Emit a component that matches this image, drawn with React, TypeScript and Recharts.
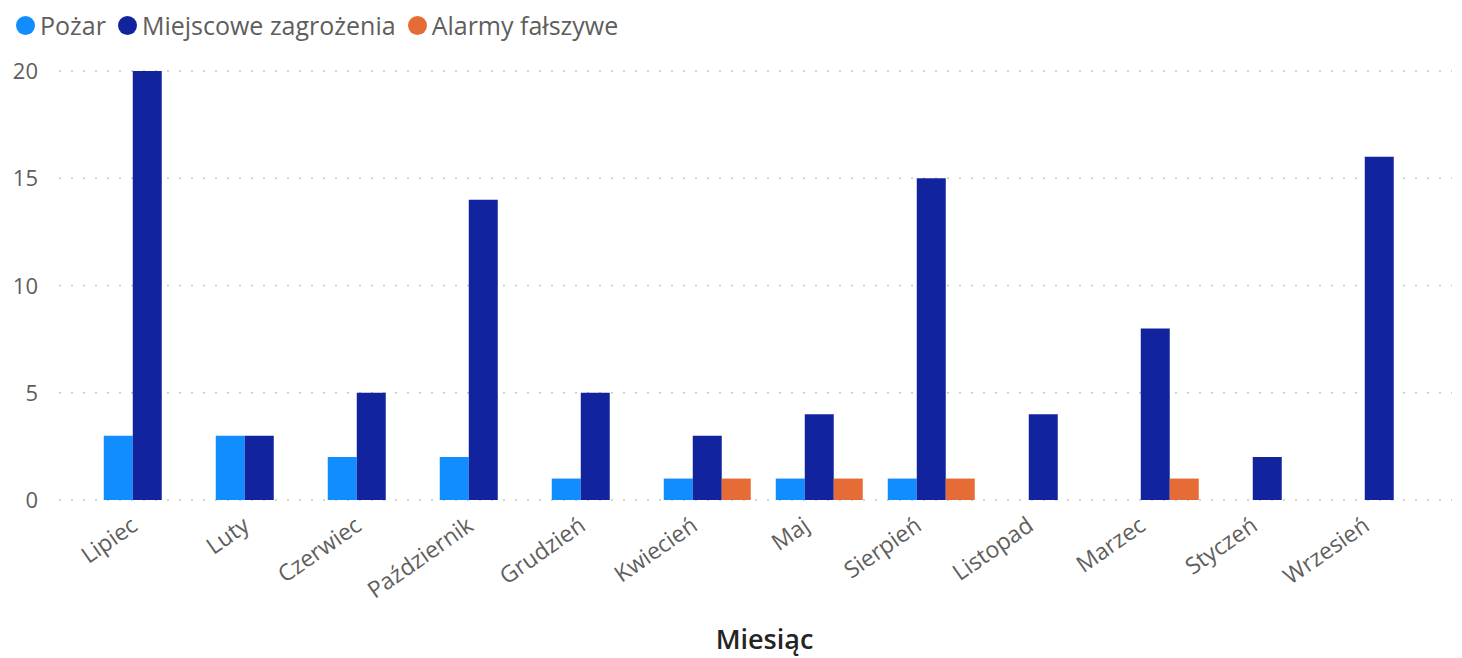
import React from "react";
import { BarChart, Bar, XAxis, YAxis, CartesianGrid, Legend } from "recharts";

const months = ["Lipiec", "Luty", "Czerwiec", "Październik", "Grudzień", "Kwiecień", "Maj", "Sierpień", "Listopad", "Marzec", "Styczeń", "Wrzesień"];
const pozar = [3, 3, 2, 2, 1, 1, 1, 1, null, null, null, null];
const miejscowe = [20, 3, 5, 14, 5, 3, 4, 15, 4, 8, 2, 16];
const alarmy = [null, null, null, null, null, 1, 1, 1, null, 1, null, null];
const yTicks = [0, 5, 10, 15, 20];

const seriesNames = ["Pożar", "Miejscowe zagrożenia", "Alarmy fałszywe"];
const colors = ["#118DFF", "#12239E", "#E66C37"];

const data = months.map((m, i) => ({
  month: m,
  pozar: pozar[i],
  miejscowe: miejscowe[i],
  alarmy: alarmy[i],
}));

const FONT = "'Open Sans', 'Noto Sans', sans-serif";

const XTick = (props: any) => {
  const { x, y, payload } = props;
  return (
    <g transform={`translate(${x - 9},${y + 21})`}>
      <text x={0} y={0} transform="rotate(-35)" textAnchor="end" fill="#605E5C" fontSize={23} fontFamily={FONT}>
        {payload.value}
      </text>
    </g>
  );
};

const YTick = (props: any) => {
  const { y, payload } = props;
  return (
    <text x={38} y={y} dy={8} textAnchor="end" fill="#605E5C" fontSize={22} fontFamily={FONT}>
      {payload.value}
    </text>
  );
};

const LegendContent = () => (
  <div style={{ height: 50, display: "flex", alignItems: "center", paddingLeft: 16, fontFamily: FONT, fontSize: 25, color: "#605E5C" }}>
    {seriesNames.map((n, i) => (
      <div key={n} style={{ display: "flex", alignItems: "center", marginRight: 12 }}>
        <span style={{ width: 19, height: 19, borderRadius: 10, background: colors[i], display: "inline-block", marginRight: 5 }} />
        <span>{n}</span>
      </div>
    ))}
  </div>
);

export default function App() {
  return (
    <div style={{ position: "absolute", left: 0, top: 0, width: 1462, height: 658, background: "#fff" }}>
      <BarChart
        width={1462}
        height={658}
        data={data}
        margin={{ top: 21, right: 10, left: 0, bottom: 0 }}
        barCategoryGap="10.5%"
        barGap={0}
      >
        <Legend verticalAlign="top" align="left" content={<LegendContent />} wrapperStyle={{ top: 0, left: 0, width: 1462 }} height={50} />
        <CartesianGrid vertical={false} stroke="#C8C6C4" strokeDasharray="2 10" strokeWidth={1.5} />
        <XAxis
          dataKey="month"
          axisLine={false}
          tickLine={false}
          interval={0}
          height={158}
          padding={{ left: 33, right: 16 }}
          tick={<XTick />}
          label={{ value: "Miesiąc", position: "insideBottom", offset: 9, dx: 9, fill: "#252423", fontSize: 27, fontFamily: FONT, fontWeight: 600 }}
        />
        <YAxis
          width={59}
          domain={[0, 20]}
          ticks={yTicks}
          axisLine={false}
          tickLine={false}
          tick={<YTick />}
        />
        <Bar dataKey="pozar" name={seriesNames[0]} fill={colors[0]} isAnimationActive={false} />
        <Bar dataKey="miejscowe" name={seriesNames[1]} fill={colors[1]} isAnimationActive={false} />
        <Bar dataKey="alarmy" name={seriesNames[2]} fill={colors[2]} isAnimationActive={false} />
      </BarChart>
    </div>
  );
}
